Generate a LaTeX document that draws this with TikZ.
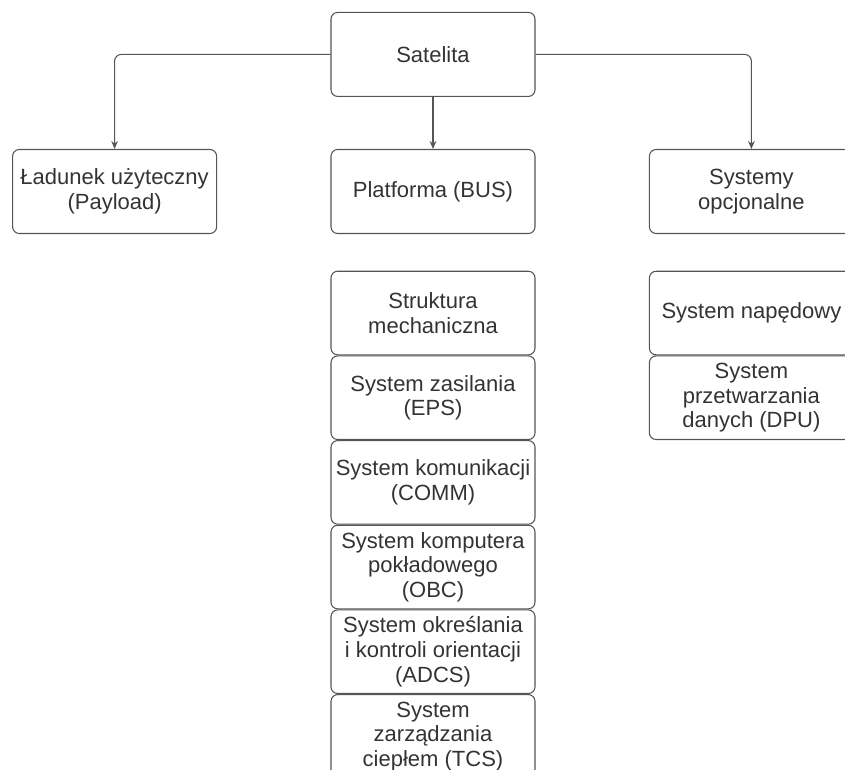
\documentclass[tikz,border=0pt]{standalone}
\usepackage{fontspec}
\setmainfont{Liberation Sans}
\usepackage{xcolor}
\usetikzlibrary{arrows.meta, positioning}
\definecolor{edgegray}{RGB}{85, 85, 85}
\definecolor{darktext}{RGB}{51, 51, 51}

\begin{document}
\begin{tikzpicture}[
    x=0.75pt, y=-0.75pt,
    node distance=85pt,
    box/.style={rectangle, draw=edgegray, rounded corners=5pt, line width=0.8pt,
                minimum width=153pt, minimum height=63pt, align=center,
                text=darktext, font=\fontsize{16.5}{18.5}\selectfont},
    subbox/.style={box, minimum height=62.7pt},
    arrow/.style={-{Stealth[length=6pt, width=5pt]}, line width=0.8pt, edgegray, rounded corners=5pt}
]
\useasboundingbox (0,0) rectangle (845,769);

% Top levels
\node[box] (bus) at (433,191.5) {Platforma (BUS)};
\node[box, above=39pt of bus] (sat) {Satelita};
\node[box, left=of bus] (payload) {Ładunek użyteczny\\(Payload)};
\node[box, right=of bus] (optional) {Systemy\\opcjonalne};

% Arrows
\draw[arrow] (sat.west) -| (payload.north);
\draw[arrow] (sat.south) -- (bus.north);
\draw[arrow] (sat.east) -| (optional.north);

% Platform subsystems
\node[subbox, below=27.5pt of bus] (struct) {Struktura\\mechaniczna};
\node[subbox, below=0pt of struct] (eps) {System zasilania\\(EPS)};
\node[subbox, below=0pt of eps] (comm) {System komunikacji\\(COMM)};
\node[subbox, below=0pt of comm] (obc) {System komputera\\pokładowego\\(OBC)};
\node[subbox, below=0pt of obc] (adcs) {System określania\\i kontroli orientacji\\(ADCS)};
\node[subbox, below=0pt of adcs] (tcs) {System\\zarządzania\\ciepłem (TCS)};

% Optional subsystems
\node[subbox, below=27.5pt of optional] (prop) {System napędowy};
\node[subbox, below=0pt of prop] (dpu) {System\\przetwarzania\\danych (DPU)};

\end{tikzpicture}
\end{document}
